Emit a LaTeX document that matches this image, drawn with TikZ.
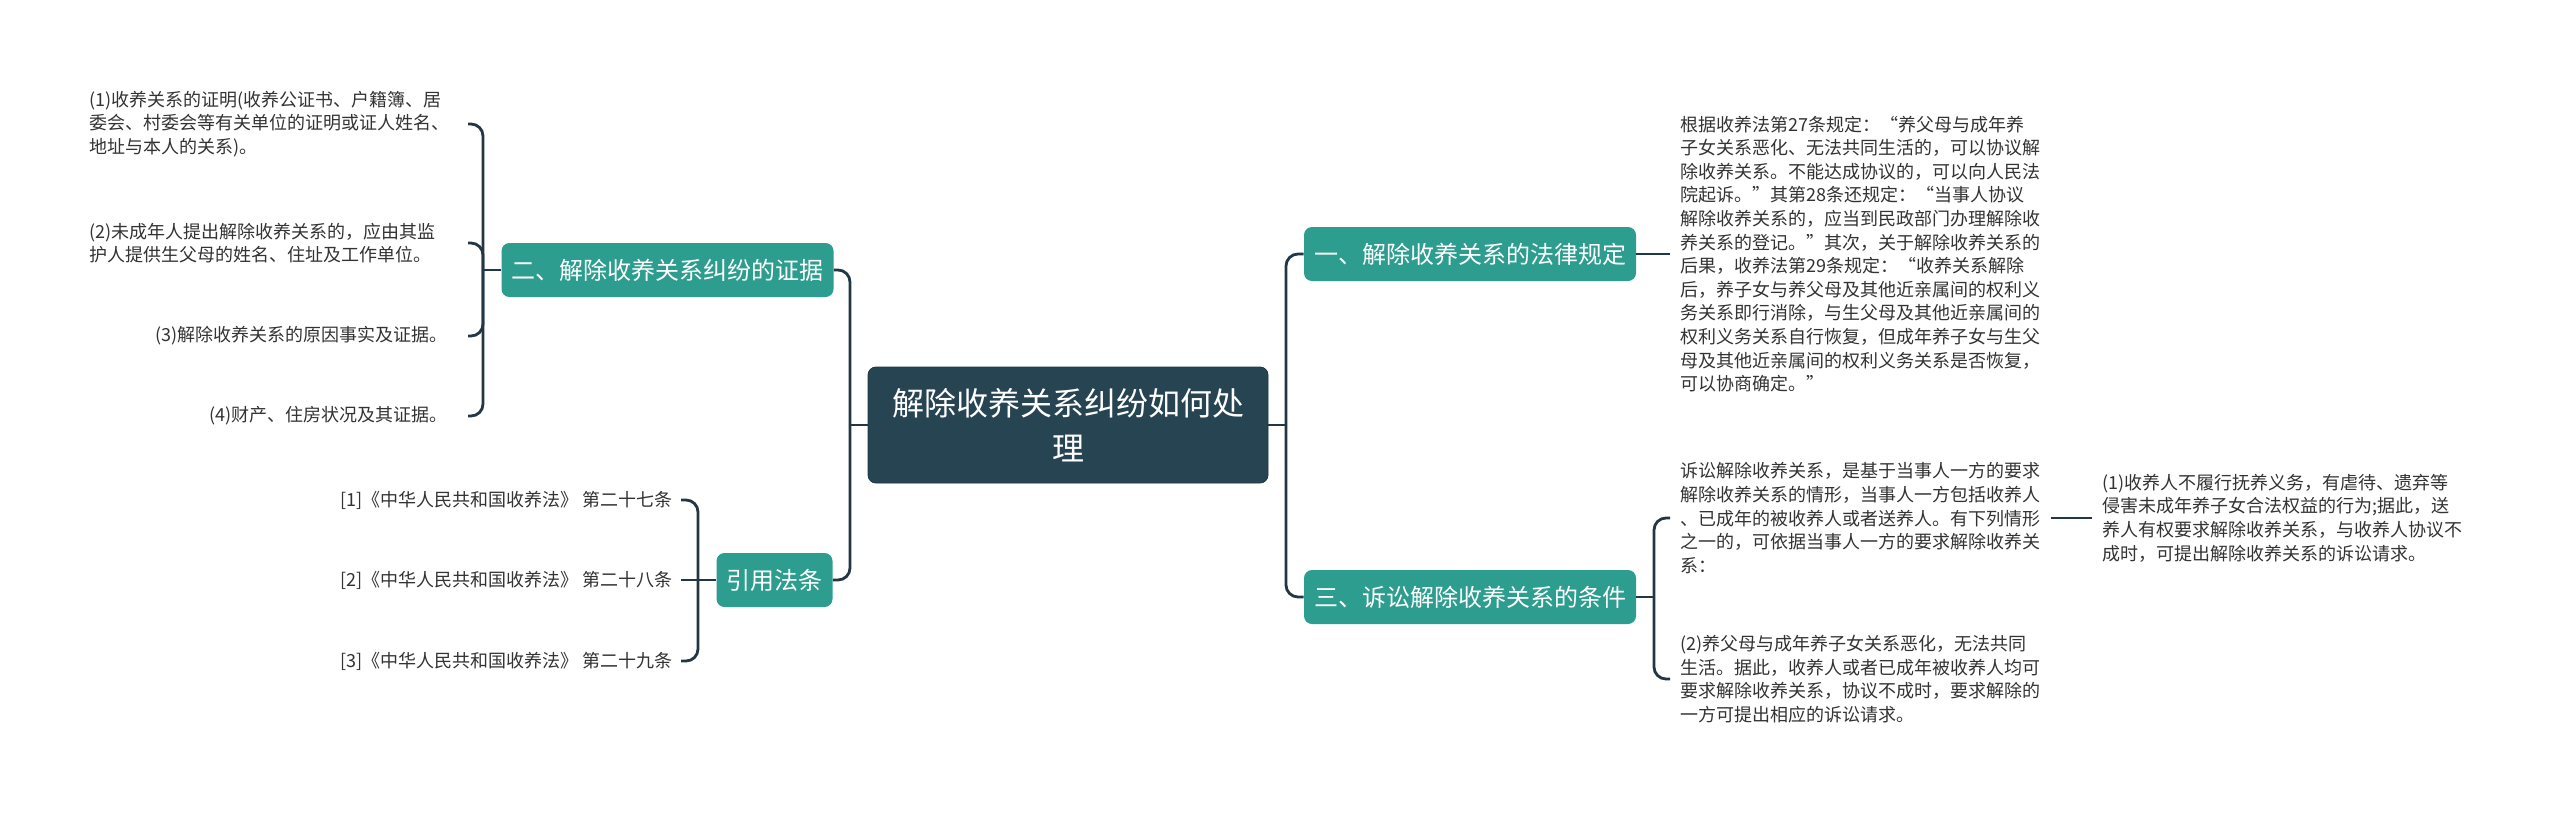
\documentclass[tikz,border=0pt]{standalone}
\usepackage{fontspec}
\setmainfont{Noto Sans CJK SC}
\definecolor{rootfill}{RGB}{39,68,82}
\definecolor{branchfill}{RGB}{44,157,142}
\definecolor{linkcol}{RGB}{34,55,67}
\definecolor{leaftext}{RGB}{51,51,51}
\tikzset{
  rootbox/.style={draw=rootfill!80!black, fill=rootfill, rounded corners=4pt, text=white, font=\fontsize{16}{22.5}\selectfont, align=center, minimum width=200pt, minimum height=58pt},
  branchbox/.style={fill=branchfill, rounded corners=4pt, text=white, font=\fontsize{12}{14}\selectfont, inner xsep=5pt, minimum height=27pt},
  leaftxt/.style={text=leaftext, font=\fontsize{9}{11.8}\selectfont, align=left, inner ysep=2pt},
  leafl/.style={leaftxt, anchor=east, inner xsep=10pt},
  leafr/.style={leaftxt, anchor=west, inner xsep=5pt},
  citetxt/.style={leaftxt, anchor=east, inner xsep=4pt},
  link/.style={draw=linkcol, line width=1.4pt, rounded corners=6pt}
}

\begin{document}
\begin{tikzpicture}[x=0.5pt, y=-0.5pt]
  \useasboundingbox (0,0) rectangle (2560,815);
  \fill[white] (0,0) rectangle (2560,815);

  % centre and main branches
  \node[rootbox] (root) at (1068,425) {解除收养关系纠纷如何处\\理};
  \node[branchbox] (evid) at (667.5,270) {二、解除收养关系纠纷的证据};
  \node[branchbox] (cite) at (774.5,580) {引用法条};
  \node[branchbox] (rule) at (1470,254) {一、解除收养关系的法律规定};
  \node[branchbox] (cond) at (1470,597) {三、诉讼解除收养关系的条件};

  % left leaves
  \node[leafl, text width=179pt] (ev1) at (468,124) {(1)收养关系的证明(收养公证书、户籍簿、居\\委会、村委会等有关单位的证明或证人姓名、\\地址与本人的关系)。};
  \node[leafl, text width=179pt] (ev2) at (468,243) {(2)未成年人提出解除收养关系的，应由其监\\护人提供生父母的姓名、住址及工作单位。};
  \node[leafl] (ev3) at (468,336) {(3)解除收养关系的原因事实及证据。};
  \node[leafl] (ev4) at (468,416) {(4)财产、住房状况及其证据。};

  \node[citetxt] (law1) at (681,500) {[1]《中华人民共和国收养法》 第二十七条};
  \node[citetxt] (law2) at (681,580) {[2]《中华人民共和国收养法》 第二十八条};
  \node[citetxt] (law3) at (681,661) {[3]《中华人民共和国收养法》 第二十九条};

  % right leaves
  \node[leafr] (ruletxt) at (1670,254) {根据收养法第27条规定：“养父母与成年养\\子女关系恶化、无法共同生活的，可以协议解\\除收养关系。不能达成协议的，可以向人民法\\院起诉。”其第28条还规定：“当事人协议\\解除收养关系的，应当到民政部门办理解除收\\养关系的登记。”其次，关于解除收养关系的\\后果，收养法第29条规定：“收养关系解除\\后，养子女与养父母及其他近亲属间的权利义\\务关系即行消除，与生父母及其他近亲属间的\\权利义务关系自行恢复，但成年养子女与生父\\母及其他近亲属间的权利义务关系是否恢复，\\可以协商确定。”};
  \node[leafr] (cond1) at (1670,518) {诉讼解除收养关系，是基于当事人一方的要求\\解除收养关系的情形，当事人一方包括收养人\\、已成年的被收养人或者送养人。有下列情形\\之一的，可依据当事人一方的要求解除收养关\\系：};
  \node[leafr] (cond2) at (1670,679) {(2)养父母与成年养子女关系恶化，无法共同\\生活。据此，收养人或者已成年被收养人均可\\要求解除收养关系，协议不成时，要求解除的\\一方可提出相应的诉讼请求。};
  \node[leafr] (cond1a) at (2092,518) {(1)收养人不履行抚养义务，有虐待、遗弃等\\侵害未成年养子女合法权益的行为;据此，送\\养人有权要求解除收养关系，与收养人协议不\\成时，可提出解除收养关系的诉讼请求。};

  % junctions
  \coordinate (lj) at (850,425);
  \coordinate (rj) at (1286,425);
  \coordinate (evj) at (483,270);
  \coordinate (citej) at (698,580);
  \coordinate (condj) at (1654,597);

  % connectors
  \draw[link] (root.west) -- (lj);
  \draw[link] (lj) |- (evid.east);
  \draw[link] (lj) |- (cite.east);
  \draw[link] (root.east) -- (rj);
  \draw[link] (rj) |- (rule.west);
  \draw[link] (rj) |- (cond.west);

  \draw[link] (evid.west) -- (evj);
  \draw[link] (evj) |- (ev1.east);
  \draw[link] (evj) |- (ev2.east);
  \draw[link] (evj) |- (ev3.east);
  \draw[link] (evj) |- (ev4.east);

  \draw[link] (cite.west) -- (citej);
  \draw[link] (citej) |- (law1.east);
  \draw[link] (citej) -- (law2.east);
  \draw[link] (citej) |- (law3.east);

  \draw[link] (rule.east) -- (ruletxt.west);
  \draw[link] (cond.east) -- (condj);
  \draw[link] (condj) |- (cond1.west);
  \draw[link] (condj) |- (cond2.west);
  \draw[link] (cond1.east) -- (cond1a.west);
\end{tikzpicture}
\end{document}
